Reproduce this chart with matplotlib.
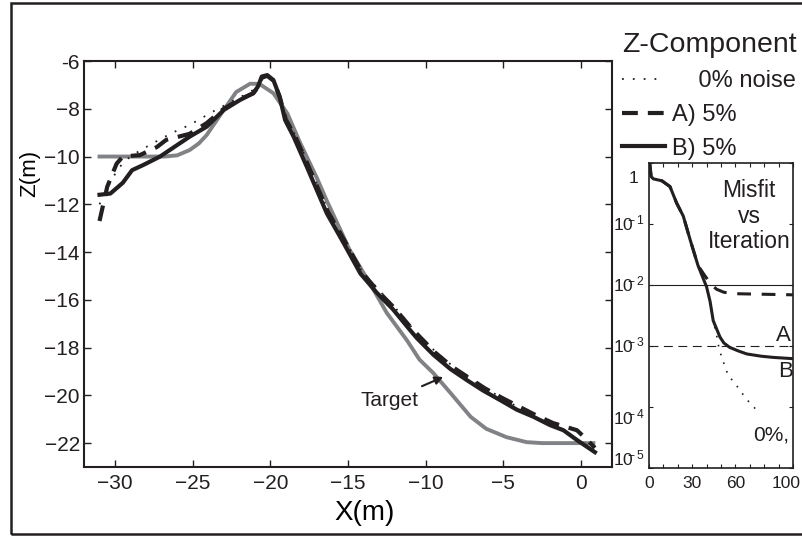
import numpy as np
import matplotlib.pyplot as plt
from matplotlib import font_manager
from matplotlib.patches import Rectangle
from matplotlib.transforms import ScaledTranslation

ink = '#231f20'
grey = '#808285'

# profile data: X(m), Z(m)
target_x = [-31.0, -26.8, -26.0, -25.2, -24.6, -24.1, -23.0, -22.2, -21.3, -20.7, -19.8,
            -18.9, -18.1, -17.0, -16.4, -14.9, -13.6, -12.5, -11.2, -10.4, -9.5, -8.4,
            -7.1, -6.1, -4.8, -3.5, -2.5, 0.8]
target_z = [-10.0, -10.0, -9.95, -9.73, -9.45, -9.1, -8.05, -7.3, -6.95, -6.96, -7.35,
            -8.2, -9.4, -10.9, -11.8, -13.9, -15.3, -16.55, -17.7, -18.5, -19.07, -19.9,
            -20.9, -21.4, -21.75, -21.96, -22.0, -22.0]

b_x = [-31.0, -30.3, -29.5, -28.9, -28.2, -27.1, -26.3, -25.2, -24.1, -23.0, -21.95,
       -21.1, -20.8, -20.55, -20.2, -19.8, -19.4, -19.05, -18.5, -17.65, -16.37, -15.3,
       -14.2, -13.15, -12.1, -11.0, -10.57, -9.5, -8.4, -7.35, -6.3, -5.2, -4.13, -3.05,
       -1.98, -1.13, -0.26, 0.9]
b_z = [-11.6, -11.55, -11.1, -10.57, -10.36, -10.0, -9.65, -9.17, -8.75, -8.05, -7.63,
       -7.35, -7.07, -6.65, -6.59, -6.8, -7.5, -8.47, -9.17, -10.43, -12.37, -13.6,
       -14.9, -15.7, -16.4, -17.27, -17.6, -18.3, -18.9, -19.36, -19.8, -20.2, -20.6, -20.9,
       -21.25, -21.46, -21.87, -22.38]

a_x = [-31.0, -30.5, -29.9, -29.5, -28.4, -27.3, -26.7, -25.2, -24.1, -23.0, -21.95,
       -21.1, -20.8, -20.55, -20.2, -19.8, -19.4, -19.0, -18.4, -17.55, -16.3, -15.2,
       -14.1, -13.05, -12.0, -10.9, -9.4, -8.3, -7.25, -6.2, -5.1, -4.05, -3.0, -1.8,
       -0.26, 0.3, 0.9]
a_z = [-12.7, -11.26, -10.3, -10.0, -9.94, -9.6, -9.3, -9.05, -8.6, -8.0, -7.6,
       -7.35, -7.1, -6.7, -6.62, -6.82, -7.5, -8.45, -9.15, -10.4, -12.3, -13.55,
       -14.85, -15.65, -16.35, -17.2, -18.2, -18.8, -19.25, -19.7, -20.1, -20.45, -20.8, -21.16,
       -21.46, -21.8, -22.2]

n0_x = [-31.0, -30.4, -29.8, -29.2, -28.4, -27.3, -26.3, -25.2, -23.7, -22.5, -21.3,
        -20.8, -20.5, -20.2, -19.8, -19.4, -19.0, -18.4, -17.5, -16.3, -15.2, -14.1,
        -13.0, -12.0, -10.9, -9.4, -8.3, -7.25, -6.2, -5.1, -4.05, -3.0, -2.0, -1.1,
        -0.26, 0.9]
n0_z = [-12.0, -11.2, -10.5, -10.1, -9.75, -9.35, -9.0, -8.68, -8.12, -7.7, -7.3,
        -7.05, -6.7, -6.62, -6.85, -7.45, -8.4, -9.1, -10.35, -12.25, -13.5, -14.8,
        -15.6, -16.3, -17.15, -18.15, -18.75, -19.25, -19.7, -20.1, -20.5, -20.85, -21.2, -21.45,
        -21.85, -22.35]

x_ticks = [-30, -25, -20, -15, -10, -5, 0]
z_ticks = [-22, -20, -18, -16, -14, -12, -10, -8, -6]
z_tick_labels = ['\u221222', '\u221220', '\u221218', '\u221216', '\u221214',
                 '\u221212', '\u221210', '\u22128', '-6']

# misfit vs iteration
iter_b = [0.5, 1.5, 3, 9, 14.6, 19.2, 23.8, 28.5, 34, 40, 42.4, 44.6, 49.3, 52, 56,
          62, 68, 78, 86.4, 100]
misfit_b = [1.0, 0.60, 0.55, 0.51, 0.41, 0.22, 0.135, 0.056, 0.021, 0.0093, 0.0054,
            0.0026, 0.0014, 0.00112, 0.00095, 0.00083, 0.00074, 0.00068, 0.00065, 0.00062]

iter_a = [0.5, 1.5, 3, 9, 14.6, 19.2, 23.8, 28.5, 34, 38, 41, 44, 47, 52, 60, 100]
misfit_a = [1.0, 0.60, 0.55, 0.51, 0.41, 0.22, 0.135, 0.056, 0.021, 0.0151, 0.0120,
            0.0098, 0.0085, 0.0076, 0.0072, 0.0069]

iter_0 = [0.5, 1.5, 3, 9, 14.6, 19.2, 23.8, 28.5, 34, 40, 42.4, 44.6, 47, 48.5, 50.4,
          52.8, 55, 59.7, 63, 68, 72.5, 77]
misfit_0 = [1.0, 0.60, 0.55, 0.51, 0.41, 0.22, 0.135, 0.056, 0.021, 0.0093, 0.0054,
            0.0026, 0.00148, 0.00095, 0.00066, 0.00046, 0.00033, 0.000245, 0.00019,
            0.000132, 0.000102, 0.000076]

misfit_targets = [1e-2, 1e-3]
it_ticks = list(range(0, 101, 10))
it_tick_labels = ['0', '', '', '30', '', '', '60', '', '', '', '100']
mf_ticks = [1, 1e-1, 1e-2, 1e-3, 1e-4, 1e-5]
mf_tick_labels = ['1', r'$10^{\!\!\!\!-1}$', r'$10^{\!\!\!\!-2}$', r'$10^{\!\!\!\!-3}$',
                  r'$10^{\!\!\!\!-4}$', r'$10^{\!\!\!\!-5}$']

names = {f.name for f in font_manager.fontManager.ttflist}
narrow = 'Liberation Sans Narrow' if 'Liberation Sans Narrow' in names else 'Liberation Sans'

plt.rcParams['font.family'] = 'Liberation Sans'
plt.rcParams['mathtext.fontset'] = 'custom'
plt.rcParams['mathtext.rm'] = narrow
plt.rcParams['mathtext.it'] = narrow
plt.rcParams['mathtext.default'] = 'regular'
plt.rcParams['text.color'] = ink

fig = plt.figure(figsize=(8.02, 5.39), dpi=100)
fig.patches.append(Rectangle((0.0137, 0.0093), 1.1, 0.985, transform=fig.transFigure,
                             fill=False, lw=1.8, ec=ink))

# main profile axes
ax = fig.add_axes([0.1047, 0.1336, 0.6584, 0.7532])
ax.plot(target_x, target_z, color=grey, lw=2.8, solid_joinstyle='round')
line_b, = ax.plot(b_x, b_z, color=ink, lw=3, solid_joinstyle='round')
line_a, = ax.plot(a_x, a_z, color=ink, lw=3, ls=(0, (3.8, 2.4)))
line_0, = ax.plot(n0_x, n0_z, color=ink, lw=1.3, ls=(0, (1, 5)))

ax.set_xlim(-32, 2)
ax.set_ylim(-23, -6)
ax.set_xticks(x_ticks)
ax.set_yticks(z_ticks)
ax.set_yticklabels(z_tick_labels)
ax.tick_params(direction='in', length=5, width=1, top=True, right=True,
               labelsize=15, colors=ink)
ax.tick_params(axis='x', pad=5)
ax.tick_params(axis='y', pad=3)
for s in ax.spines.values():
    s.set_linewidth(1.5)
    s.set_color(ink)

ax.set_xlabel('X(m)', fontsize=20)
ax.xaxis.set_label_coords(0.532, -0.082)
ax.set_ylabel('Z(m)', fontsize=16)
ax.yaxis.set_label_coords(-0.082, 0.724)

ax.annotate('Target', xy=(-8.87, -19.23), xytext=(-12.3, -20.2), fontsize=15,
            ha='center', va='center',
            arrowprops=dict(arrowstyle='-|>', color=ink, lw=1.5, mutation_scale=12,
                            shrinkA=3, shrinkB=0))

fig.legend([line_0, line_a, line_b], ['    0% noise', 'A) 5%', 'B) 5%'],
           title='Z-Component', loc='upper left', bbox_to_anchor=(0.7756, 0.94),
           frameon=False, fontsize=17, title_fontsize=20.5, handlelength=1.8,
           handletextpad=0.3, labelspacing=0.5, borderpad=0, borderaxespad=0,
           alignment='left')

# misfit inset
ax2 = fig.add_axes([0.8092, 0.1317, 0.1796, 0.5659])
ax2.set_yscale('log')
ax2.axhline(misfit_targets[0], color=ink, lw=0.8)
ax2.axhline(misfit_targets[1], color=ink, lw=0.8, ls=(0, (8, 5)))
ax2.plot(iter_b, misfit_b, color=ink, lw=2.2)
ax2.plot(iter_a, misfit_a, color=ink, lw=2.2, ls=(0, (4.5, 3.5)))
ax2.plot(iter_0, misfit_0, color=ink, lw=1.2, ls=(0, (1, 4.5)))
ax2.set_xlim(0, 100)
ax2.set_ylim(1e-5, 1)
ax2.set_xticks(it_ticks)
ax2.set_xticklabels(it_tick_labels, fontname=narrow)
ax2.set_yticks(mf_ticks)
ax2.yaxis.set_minor_locator(plt.NullLocator())
ax2.set_yticklabels(mf_tick_labels, va='baseline', ha='right')
ax2.tick_params(direction='in', length=3, width=0.8, top=True, right=True, colors=ink)
ax2.tick_params(axis='x', labelsize=12.5, pad=6)
ax2.tick_params(axis='y', labelsize=12.5, pad=2.5)
for s in ax2.spines.values():
    s.set_linewidth(1.2)
    s.set_color(ink)

# label nudges (px) so the exponent labels sit like the exported figure
nudges = [(-7, 20.5), (0, 6), (0, 6), (0, 6), (0, 17.5), (0, -2.5)]
for lab, (dx, dy) in zip(ax2.get_yticklabels(), nudges):
    lab.set_transform(lab.get_transform() +
                      ScaledTranslation(dx / 100, -dy / 100, fig.dpi_scale_trans))
last = ax2.get_xticklabels()[-1]
last.set_transform(last.get_transform() + ScaledTranslation(-0.07, 0, fig.dpi_scale_trans))

ax2.text(0.694, 0.826, 'Misfit\nvs\nIteration', transform=ax2.transAxes, fontsize=16.5,
         fontname=narrow, ha='center', va='center', linespacing=1.15)
ax2.text(93, 1.5e-3, 'A', fontsize=16, fontname=narrow, ha='center', va='center')
ax2.text(94.5, 3.8e-4, 'B', fontsize=16, fontname=narrow, ha='center', va='center')
ax2.text(85, 3.5e-5, '0%,', fontsize=15, fontname=narrow, ha='center', va='center')

fig.savefig('out.png', dpi=100)
